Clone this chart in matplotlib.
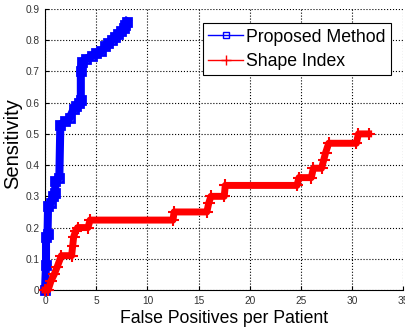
import matplotlib
matplotlib.use('Agg')
import matplotlib.pyplot as plt
from matplotlib.lines import Line2D

plt.rcParams['font.family'] = ['Liberation Sans', 'DejaVu Sans']

# Proposed Method (FP per patient, sensitivity)
fp_pm = [0, 0.1, 0.1, 0.25, 0.3, 0.6, 0.8, 1.0, 1.0, 1.4, 1.5, 2.0, 2.4, 2.8, 3.0, 3.3,
         3.5, 3.5, 3.6, 4.0, 4.6, 5.0, 5.5, 5.9, 6.2, 6.5, 6.8, 7.1, 7.4, 7.7, 7.8, 8.0]
sens_pm = [0, 0.08, 0.17, 0.18, 0.27, 0.28, 0.30, 0.31, 0.35, 0.36, 0.53, 0.54, 0.55, 0.58, 0.59, 0.60,
           0.61, 0.70, 0.73, 0.74, 0.75, 0.76, 0.765, 0.78, 0.79, 0.80, 0.81, 0.82, 0.83, 0.84, 0.85, 0.86]

# Shape Index
fp_si = [0, 0.3, 0.6, 0.9, 1.2, 1.6, 2.6, 2.7, 2.8, 3.0, 3.2, 4.2, 4.4, 12.5, 12.6, 15.8,
         16.0, 16.2, 17.5, 17.6, 24.6, 24.8, 26.0, 26.2, 27.0, 27.2, 27.4, 27.7, 30.4, 30.6, 31.6]
sens_si = [0, 0.0, 0.03, 0.05, 0.075, 0.11, 0.11, 0.14, 0.17, 0.19, 0.20, 0.20, 0.224, 0.224, 0.25, 0.25,
           0.28, 0.30, 0.30, 0.335, 0.335, 0.36, 0.36, 0.39, 0.39, 0.415, 0.44, 0.47, 0.47, 0.50, 0.50]

fig = plt.figure(figsize=(4.06, 3.29), dpi=100)
ax = fig.add_axes([0.1108, 0.1185, 0.8830, 0.8541])

ax.plot(fp_pm, sens_pm, color='blue', lw=5.8, marker='s', ms=6, mfc='none', mew=2,
        clip_on=False, zorder=3)
ax.plot(fp_si, sens_si, color='red', lw=5, marker='+', ms=8, mew=1.5,
        clip_on=False, zorder=3)

ax.set_xlim(0, 35)
ax.set_ylim(0, 0.9)
ax.set_xticks(range(0, 36, 5))
ax.set_yticks([i / 10 for i in range(10)])
ax.set_yticklabels(['0'] + ['%.1f' % (i / 10) for i in range(1, 10)])

ax.grid(True, linestyle=':', color='black', lw=0.8)
ax.set_axisbelow(True)
for s in ['top', 'right']:
    ax.spines[s].set_visible(False)
for s in ['left', 'bottom']:
    ax.spines[s].set_linewidth(0.8)
ax.tick_params(direction='in', length=3, width=0.8, labelsize=7.3, labelcolor='#333333', pad=4)

ax.set_xlabel('False Positives per Patient', fontsize=12.7, labelpad=3)
ax.set_ylabel('Sensitivity', fontsize=14.5)
ax.yaxis.set_label_coords(-0.064, 0.521)

# legend handles drawn thin, like the original
handles = [Line2D([], [], color='blue', lw=1, marker='s', ms=5, mfc='none', mew=1),
           Line2D([], [], color='red', lw=1, marker='+', ms=7, mew=1)]
leg = ax.legend(handles, ['Proposed Method', 'Shape Index'], loc='upper right',
                bbox_to_anchor=(0.964, 0.949), borderaxespad=0, fontsize=12.7,
                fancybox=False, framealpha=1, edgecolor='black', handlelength=2.0,
                handletextpad=0.15, labelspacing=0.4, borderpad=0.3)
leg.get_frame().set_linewidth(0.8)

fig.savefig('out.png', dpi=100)
